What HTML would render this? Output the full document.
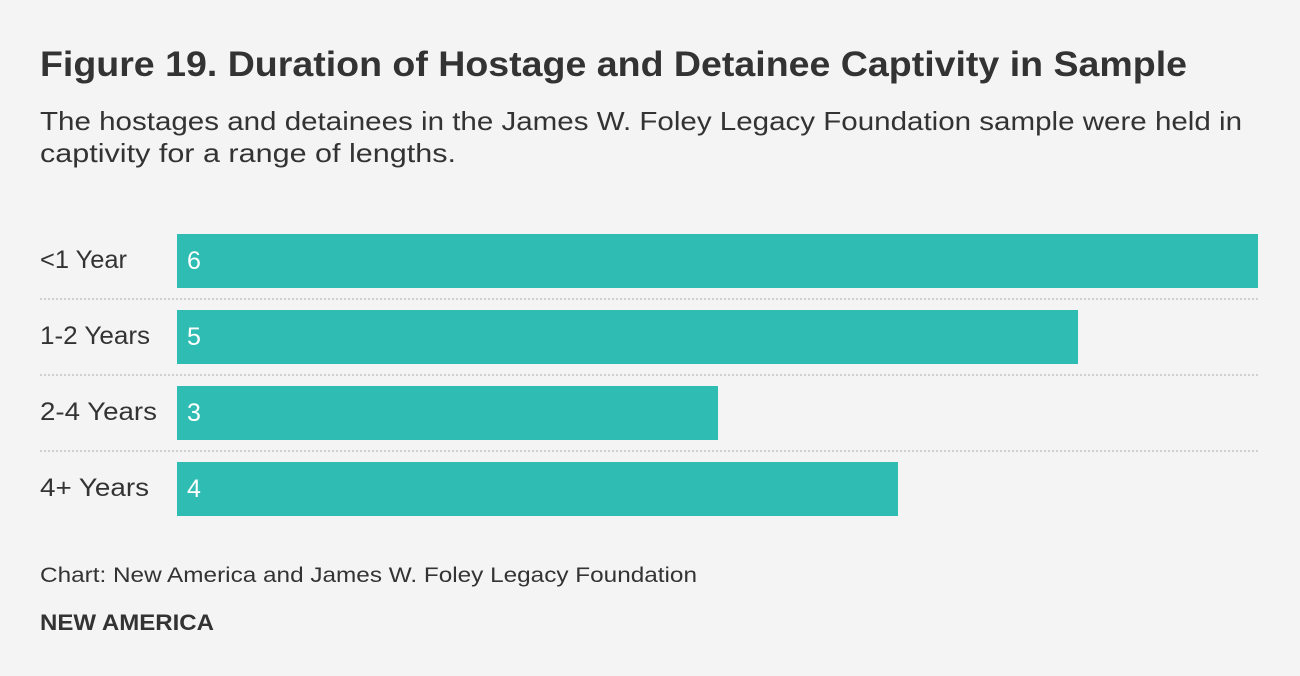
<!DOCTYPE html>
<html><head><meta charset="utf-8"><style>
html,body{margin:0;padding:0;background:#f4f4f4;}
svg{display:block;font-family:"Liberation Sans",sans-serif;}
</style></head><body>
<svg width="1300" height="676" viewBox="0 0 1300 676">
<rect width="1300" height="676" fill="#f4f4f4"/>
<text x="40" y="76" font-size="35" font-weight="bold" fill="#333" textLength="1147" lengthAdjust="spacingAndGlyphs">Figure 19. Duration of Hostage and Detainee Captivity in Sample</text>
<text x="40" y="130" font-size="26" fill="#333" textLength="1202" lengthAdjust="spacingAndGlyphs">The hostages and detainees in the James W. Foley Legacy Foundation sample were held in</text>
<text x="40" y="162" font-size="26" fill="#333" textLength="416" lengthAdjust="spacingAndGlyphs">captivity for a range of lengths.</text>
<g stroke="#d0d0d0" stroke-width="2" stroke-dasharray="2,2">
<line x1="40" y1="299" x2="1258" y2="299"/>
<line x1="40" y1="375" x2="1258" y2="375"/>
<line x1="40" y1="451" x2="1258" y2="451"/>
</g>
<g fill="#2ebcb3">
<rect x="177" y="234" width="1081" height="54"/>
<rect x="177" y="310" width="901" height="54"/>
<rect x="177" y="386" width="541" height="54"/>
<rect x="177" y="462" width="721" height="54"/>
</g>
<g font-size="25" fill="#333">
<text x="40" y="268" textLength="87" lengthAdjust="spacingAndGlyphs">&lt;1 Year</text>
<text x="40" y="344" textLength="110" lengthAdjust="spacingAndGlyphs">1-2 Years</text>
<text x="40" y="420" textLength="117" lengthAdjust="spacingAndGlyphs">2-4 Years</text>
<text x="40" y="496" textLength="109" lengthAdjust="spacingAndGlyphs">4+ Years</text>
</g>
<g font-size="25" fill="#fff">
<text x="187" y="269">6</text>
<text x="187" y="345">5</text>
<text x="187" y="421">3</text>
<text x="187" y="497">4</text>
</g>
<text x="40" y="582" font-size="21" fill="#333" textLength="657" lengthAdjust="spacingAndGlyphs">Chart: New America and James W. Foley Legacy Foundation</text>
<text x="40" y="630" font-size="22" font-weight="bold" fill="#333" textLength="174" lengthAdjust="spacingAndGlyphs">NEW AMERICA</text>
</svg>
</body></html>
